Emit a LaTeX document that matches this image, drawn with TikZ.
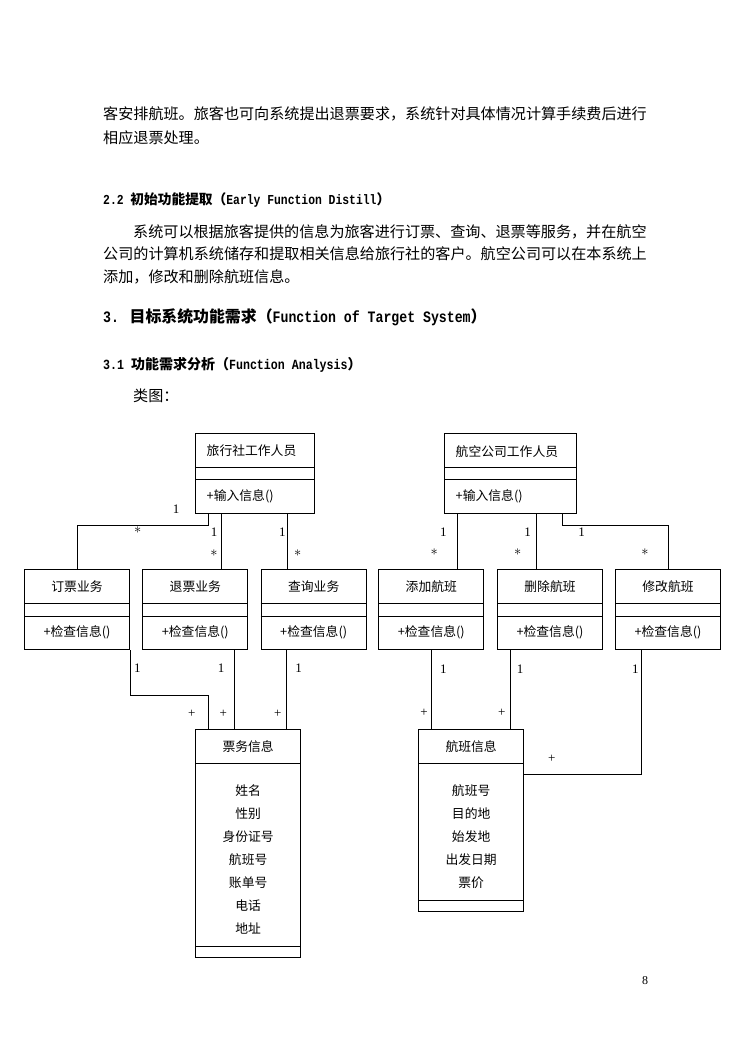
\documentclass[tikz,border=0pt]{standalone}
\usepackage{fontspec}
\setmainfont{Liberation Serif}
\newfontfamily\cjk{Noto Sans CJK SC}
\newfontfamily\lmono{Liberation Mono}[FakeStretch=0.83]
\tikzset{
  cbox/.style={draw, line width=1pt, inner sep=0pt, anchor=north west},
  ctext/.style={inner sep=0pt, font=\cjk\fontsize{12.8}{14}\selectfont},
  body/.style={inner sep=0pt, anchor=west, font=\cjk\fontsize{15.1}{17}\selectfont},
  mult/.style={inner sep=0pt, font=\fontsize{13}{14}\selectfont},
  star/.style={inner sep=0pt, font=\fontsize{15}{16}\selectfont},
  conn/.style={line width=1pt},
}
\newcommand\midcls[3]{%
  \node[cbox, minimum width=105pt, minimum height=80pt] (#1) at (#2,569) {};
  \draw[conn] ([yshift=-34.5pt]#1.north west) -- ([yshift=-34.5pt]#1.north east);
  \draw[conn] ([yshift=-47pt]#1.north west) -- ([yshift=-47pt]#1.north east);
  \node[ctext] (#1n) at ([yshift=-17.7pt]#1.north) {#3};
  \node[ctext] (#1m) at ([yshift=-63.7pt]#1.north) {+检查信息()};
}
\begin{document}
\begin{tikzpicture}[x=1pt,y=-1pt]
\useasboundingbox (0,0) rectangle (753,1063);
\fill[white] (0,0) rectangle (753,1063);

% ---- text
\node[body] (t1) at (103,114) {客安排航班。旅客也可向系统提出退票要求，系统针对具体情况计算手续费后进行};
\node[body] (t2) at (103,138) {相应退票处理。};
\node[inner sep=0pt, anchor=west, font=\fontsize{13.7}{15}\selectfont] (h22) at (103,200)
  {\lmono\bfseries 2.2 \cjk\bfseries 初始功能提取（\lmono\bfseries Early Function Distill\cjk\bfseries ）};
\node[body] (t3) at (133,232) {系统可以根据旅客提供的信息为旅客进行订票、查询、退票等服务，并在航空};
\node[body] (t4) at (103,254) {公司的计算机系统储存和提取相关信息给旅行社的客户。航空公司可以在本系统上};
\node[body] (t5) at (103,277) {添加，修改和删除航班信息。};
\node[inner sep=0pt, anchor=west, font=\fontsize{15.9}{17}\selectfont] (h3) at (103,317)
  {\lmono\bfseries 3. \cjk\bfseries 目标系统功能需求（\lmono\bfseries Function of Target System\cjk\bfseries ）};
\node[inner sep=0pt, anchor=west, font=\fontsize{14}{15}\selectfont] (h31) at (103,365)
  {\lmono\bfseries 3.1 \cjk\bfseries 功能需求分析（\lmono\bfseries Function Analysis\cjk\bfseries ）};
\node[body] (t6) at (133,396) {类图：};
\node[inner sep=0pt, font=\fontsize{12}{13}\selectfont] (pg) at (645,981) {8};

% ---- top classes
\node[cbox, minimum width=119pt, minimum height=80.5pt] (tr) at (195,432.5) {};
\draw[conn] ([yshift=-35pt]tr.north west) -- ([yshift=-35pt]tr.north east);
\draw[conn] ([yshift=-46.5pt]tr.north west) -- ([yshift=-46.5pt]tr.north east);
\node[ctext, anchor=west] (trn) at ([xshift=11.5pt,yshift=-18.5pt]tr.north west) {旅行社工作人员};
\node[ctext, anchor=west] (trm) at ([xshift=11.5pt,yshift=-64pt]tr.north west) {+输入信息()};

\node[cbox, minimum width=132pt, minimum height=80pt] (hk) at (444,432.8) {};
\draw[conn] ([yshift=-35pt]hk.north west) -- ([yshift=-35pt]hk.north east);
\draw[conn] ([yshift=-46.2pt]hk.north west) -- ([yshift=-46.2pt]hk.north east);
\node[ctext, anchor=west] (hkn) at ([xshift=11.5pt,yshift=-18.5pt]hk.north west) {航空公司工作人员};
\node[ctext, anchor=west] (hkm) at ([xshift=11.5pt,yshift=-64pt]hk.north west) {+输入信息()};

% ---- middle classes
\midcls{dp}{24}{订票业务}
\midcls{tp}{142.3}{退票业务}
\midcls{cx}{260.7}{查询业务}
\midcls{tj}{378.3}{添加航班}
\midcls{sc}{497}{删除航班}
\midcls{xg}{615}{修改航班}

% ---- bottom classes
\node[cbox, minimum width=105.3pt, minimum height=227.5pt] (pw) at (195,729) {};
\draw[conn] ([yshift=-34.5pt]pw.north west) -- ([yshift=-34.5pt]pw.north east);
\draw[conn] ([yshift=11pt]pw.south west) -- ([yshift=11pt]pw.south east);
\node[ctext] (pwn) at ([yshift=-17.2pt]pw.north) {票务信息};
\foreach \t [count=\i] in {姓名,性别,身份证号,航班号,账单号,电话,地址}
  \node[ctext] (pwa\i) at ([yshift={-62pt-22.9pt*(\i-1)}]pw.north) {\t};

\node[cbox, minimum width=105.3pt, minimum height=182pt] (hb) at (418,729) {};
\draw[conn] ([yshift=-34.5pt]hb.north west) -- ([yshift=-34.5pt]hb.north east);
\draw[conn] ([yshift=11.5pt]hb.south west) -- ([yshift=11.5pt]hb.south east);
\node[ctext] (hbn) at ([yshift=-17.2pt]hb.north) {航班信息};
\foreach \t [count=\i] in {航班号,目的地,始发地,出发日期,票价}
  \node[ctext] (hba\i) at ([yshift={-62pt-22.9pt*(\i-1)}]hb.north) {\t};

% ---- connectors, upper
\draw[conn] ([xshift=13.3pt]tr.south west) -- ++(0,11) -| (dp.north);
\draw[conn] ([xshift=26.7pt]tr.south west) -- ([xshift=79.4pt]tp.north west);
\draw[conn] ([xshift=92.3pt]tr.south west) -- ([xshift=26.6pt]cx.north west);
\draw[conn] ([xshift=13.7pt]hk.south west) -- ([xshift=79.4pt]tj.north west);
\draw[conn] ([xshift=92.7pt]hk.south west) -- ([xshift=39.7pt]sc.north west);
\draw[conn] ([xshift=118.7pt]hk.south west) -- ++(0,11.2) -| (xg.north);

% ---- connectors, lower
\draw[conn] (dp.south east) -- ++(0,45.3) -| ([xshift=13.7pt]pw.north west);
\draw[conn] ([xshift=92pt]tp.south west) -- ([xshift=39.3pt]pw.north west);
\draw[conn] ([xshift=26pt]cx.south west) -- ([xshift=91.7pt]pw.north west);
\draw[conn] ([xshift=53.4pt]tj.south west) -- ([xshift=13.7pt]hb.north west);
\draw[conn] ([xshift=13.3pt]sc.south west) -- ([xshift=92.3pt]hb.north west);
\draw[conn] ([xshift=26.3pt]xg.south west) |- ([yshift=-45.7pt]hb.north east);

% ---- multiplicities
\node[mult] (m1a) at (176,509) {1};
\node[star] (m1b) at (137.7,530) {$\ast$};
\node[mult] (m2a) at (214,532) {1};
\node[star] (m2b) at (214,553) {$\ast$};
\node[mult] (m3a) at (282.3,532) {1};
\node[star] (m3b) at (297.7,553) {$\ast$};
\node[mult] (m4a) at (443.3,532) {1};
\node[star] (m4b) at (434.3,552.3) {$\ast$};
\node[mult] (m5a) at (527.7,532) {1};
\node[star] (m5b) at (517.7,552.3) {$\ast$};
\node[mult] (m6a) at (581.7,532) {1};
\node[star] (m6b) at (645,552) {$\ast$};
\node[mult] (m7a) at (137.3,668) {1};
\node[mult] (m7b) at (191.7,714) {+};
\node[mult] (m8a) at (221,668) {1};
\node[mult] (m8b) at (223.3,714) {+};
\node[mult] (m9a) at (298.7,668) {1};
\node[mult] (m9b) at (277.7,714) {+};
\node[mult] (m10a) at (443.3,669) {1};
\node[mult] (m10b) at (424,713.3) {+};
\node[mult] (m11a) at (520,669) {1};
\node[mult] (m11b) at (501.7,713.3) {+};
\node[mult] (m12a) at (635.3,669) {1};
\node[mult] (m12b) at (551.7,759) {+};
\end{tikzpicture}
\end{document}
